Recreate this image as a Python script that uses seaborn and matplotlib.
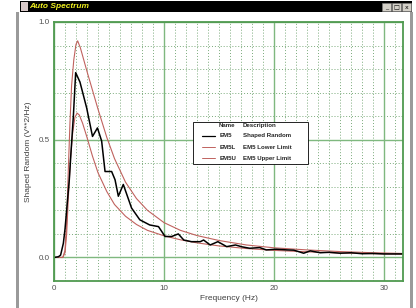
import numpy as np
import pandas as pd
import matplotlib
matplotlib.use("Agg")
import matplotlib.pyplot as plt
from matplotlib.patches import Rectangle
from matplotlib.lines import Line2D
import seaborn as sns

# ---- data ----
em5_f = [0, 0.4, 0.6, 0.85, 1.0, 1.15, 1.39, 1.55, 1.76, 1.97, 2.36, 2.97, 3.5, 3.95, 4.33,
         4.64, 5.24, 5.55, 5.85, 6.3, 7.05, 7.8, 8.7, 9.5, 10.1, 10.7, 11.3, 11.8, 12.5,
         13.3, 13.6, 14.2, 14.9, 15.7, 16.5, 17.1, 17.8, 18.7, 19.3, 20.2, 21.2, 21.8,
         22.7, 23.3, 24.2, 25.0, 26.0, 27.0, 28.0, 29.0, 30.0, 31.7]
em5_v = [0, 0.003, 0.01, 0.06, 0.12, 0.2, 0.33, 0.45, 0.6, 0.785, 0.745, 0.635, 0.514, 0.55,
         0.495, 0.365, 0.365, 0.33, 0.26, 0.31, 0.21, 0.16, 0.138, 0.131, 0.089, 0.089,
         0.10, 0.074, 0.067, 0.067, 0.074, 0.053, 0.067, 0.046, 0.053, 0.045, 0.039,
         0.042, 0.032, 0.035, 0.032, 0.031, 0.018, 0.028, 0.02, 0.022, 0.018, 0.02,
         0.016, 0.017, 0.015, 0.015]

em5u_f = [0, 0.8, 1.0, 1.15, 1.3, 1.45, 1.6, 1.8, 2.0, 2.15, 2.4, 2.7, 3.0, 3.5, 4.0, 4.8,
          5.5, 6.5, 7.5, 8.5, 10, 11.5, 13, 15, 17.5, 20, 23, 26, 29, 31.7]
em5u_v = [0, 0, 0.03, 0.15, 0.37, 0.57, 0.73, 0.84, 0.905, 0.92, 0.89, 0.84, 0.79, 0.71,
          0.63, 0.51, 0.42, 0.32, 0.25, 0.2, 0.148, 0.115, 0.093, 0.072, 0.053, 0.041,
          0.032, 0.025, 0.02, 0.017]

em5l_f = [0, 0.8, 1.0, 1.15, 1.3, 1.5, 1.7, 1.9, 2.1, 2.3, 2.6, 3.0, 3.5, 4.0, 4.8, 5.5,
          6.5, 7.5, 8.5, 10, 11.5, 13, 15, 17.5, 20, 23, 26, 29, 31.7]
em5l_v = [0, 0, 0.02, 0.1, 0.25, 0.42, 0.53, 0.595, 0.613, 0.605, 0.57, 0.51, 0.43, 0.36,
          0.28, 0.225, 0.175, 0.14, 0.115, 0.092, 0.075, 0.062, 0.049, 0.038, 0.03,
          0.024, 0.019, 0.016, 0.014]

names = ["EM5", "EM5L", "EM5U"]
descriptions = ["Shaped Random", "EM5 Lower Limit", "EM5 Upper Limit"]
x_ticks = [0, 10, 20, 30]
y_ticks = [0.0, 0.5, 1.0]
y_tick_labels = ["0.0", "0.5", "1.0"]

# ---- style ----
sns.set_style("white")
plt.rcParams['font.family'] = ['Liberation Sans', 'DejaVu Sans']

W, H = 416, 308
fig = plt.figure(figsize=(W / 100, H / 100), dpi=100)
fig.patch.set_facecolor("white")

# window chrome
fig.add_artist(Rectangle((20 / W, 1 - 12 / H), 392 / W, 11 / H, transform=fig.transFigure,
                         facecolor="black", edgecolor="none"))
fig.add_artist(Rectangle((16 / W, 0), 3 / W, 1 - 12 / H, transform=fig.transFigure,
                         facecolor="#9a9a9a", edgecolor="none"))
fig.add_artist(Rectangle((409.5 / W, 0), 3 / W, 1 - 12 / H, transform=fig.transFigure,
                         facecolor="#9a9a9a", edgecolor="none"))
fig.add_artist(Rectangle((21 / W, 1 - 10.5 / H), 7 / W, 8 / H, transform=fig.transFigure,
                         facecolor="#d8c8c8", edgecolor="none"))
fig.text(29.5 / W, 1 - 6.6 / H, "Auto Spectrum", color="#f0f020", fontsize=6.0,
         fontweight="bold", fontstyle="italic", va="center", ha="left")
for i, sym in enumerate(["_", "□", "x"]):
    x0 = 382 + i * 10
    fig.add_artist(Rectangle((x0 / W, 1 - 11 / H), 8.5 / W, 8 / H, transform=fig.transFigure,
                             facecolor="#d4d0c8", edgecolor="#808080", linewidth=0.4))
    fig.text((x0 + 4.25) / W, 1 - 7.2 / H, sym, color="black", fontsize=4.5,
             ha="center", va="center", family="DejaVu Sans")

ax = fig.add_axes([54 / W, (H - 281) / H, (403 - 54) / W, (281 - 22) / H])
ax.set_facecolor("white")

green_major = "#7fb87f"
green_minor = "#7aaa7a"
ax.set_xlim(0, 31.73)
ax.set_ylim(-0.1, 1.0)
ax.set_xticks(x_ticks)
ax.set_xticks(np.arange(1, 32), minor=True)
ax.set_yticks(y_ticks)
ax.set_yticks(np.arange(-0.1, 1.0, 0.1), minor=True)
ax.grid(True, which="major", color=green_major, linewidth=1.0, linestyle="-")
ax.grid(True, which="minor", color=green_minor, linewidth=0.7, linestyle=(0, (1, 2)))
ax.set_axisbelow(True)
for s in ax.spines.values():
    s.set_color("#4f9a4f")
    s.set_linewidth(1.3)
ax.tick_params(which="both", length=0, labelsize=5.8, labelcolor="#505050", pad=3)
ax.set_yticklabels(y_tick_labels)
ax.set_xticklabels([str(t) for t in x_ticks])

lim_color = "#c0625e"
df_u = pd.DataFrame({"f": em5u_f, "v": em5u_v})
df_l = pd.DataFrame({"f": em5l_f, "v": em5l_v})
df_b = pd.DataFrame({"f": em5_f, "v": em5_v})
sns.lineplot(data=df_u, x="f", y="v", ax=ax, color=lim_color, linewidth=0.8,
             estimator=None, sort=False)
sns.lineplot(data=df_l, x="f", y="v", ax=ax, color=lim_color, linewidth=0.8,
             estimator=None, sort=False)
sns.lineplot(data=df_b, x="f", y="v", ax=ax, color="black", linewidth=1.1,
             estimator=None, sort=False)

ax.set_xlabel("Frequency (Hz)", fontsize=6.0, color="#404040")
ax.set_ylabel("Shaped Random (V**2/Hz)", fontsize=6.0, color="#404040")
ax.xaxis.set_label_coords(0.5, (281 - 299) / 259)
ax.yaxis.set_label_coords((29 - 54) / 349, 0.5)
ax.xaxis.label.set_va("center")
ax.yaxis.label.set_va("center")

# legend box (manual, like the original)
ax.add_patch(Rectangle((0.397, 0.45), 0.331, 0.165, transform=ax.transAxes,
                       facecolor="white", edgecolor="black", linewidth=0.6, zorder=5))
fs = 4.4
ax.text(0.471, 0.602, "Name", transform=ax.transAxes, fontsize=fs, fontweight="bold",
        va="center", ha="left", zorder=6)
ax.text(0.541, 0.602, "Description", transform=ax.transAxes, fontsize=fs,
        fontweight="bold", va="center", ha="left", zorder=6)
row_y = [0.56, 0.516, 0.474]
row_c = ["black", lim_color, lim_color]
for y, n, d, c in zip(row_y, names, descriptions, row_c):
    ax.add_line(Line2D([0.425, 0.46], [y, y], transform=ax.transAxes, color=c,
                       linewidth=0.9 if c == "black" else 0.7, zorder=6))
    ax.text(0.474, y, n, transform=ax.transAxes, fontsize=fs, fontweight="bold",
            va="center", ha="left", zorder=6)
    ax.text(0.541, y, d, transform=ax.transAxes, fontsize=fs, fontweight="bold",
            va="center", ha="left", zorder=6)

fig.savefig("out.png", dpi=100)
